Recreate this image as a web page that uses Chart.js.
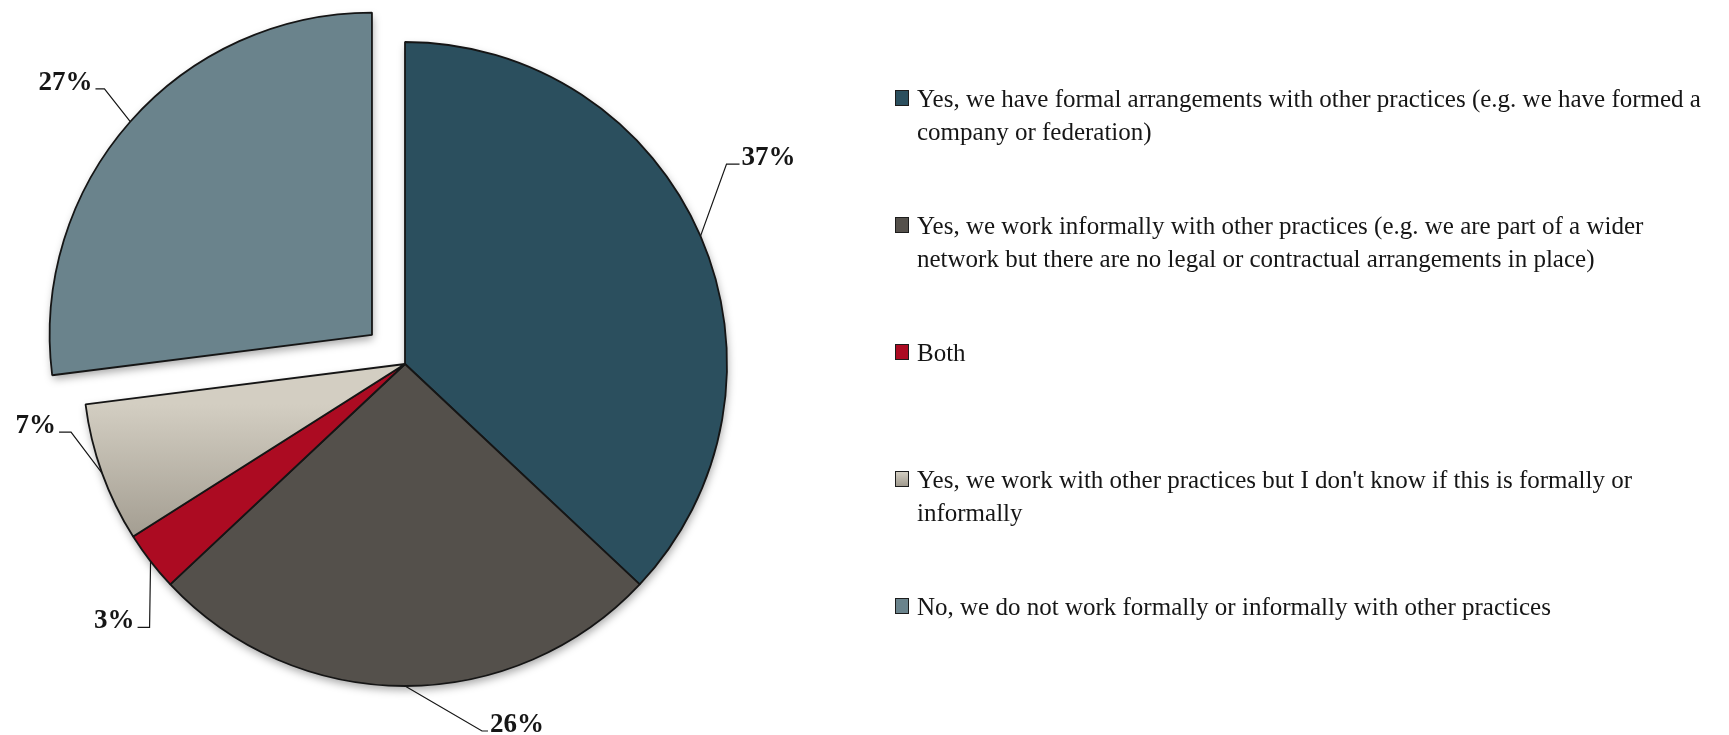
<!DOCTYPE html>
<html>
<head>
<meta charset="utf-8">
<script src="https://cdn.jsdelivr.net/npm/chart.js@4.4.0/dist/chart.umd.min.js"></script>
<style>
  html, body { margin: 0; padding: 0; background: #fff; }
  #wrap { position: relative; width: 1729px; height: 735px; overflow: hidden; }
  #wrap canvas { position: absolute; left: 0; top: 0; }
  #legend { position: absolute; left: 0; top: 0; font-family: "Liberation Serif", serif; font-size: 25px; color: #161616; }
  .item { position: absolute; left: 895px; }
  .swatch { position: absolute; left: 0; top: 8px; width: 12px; height: 14px; border: 1.5px solid #1c1c1c; }
  .text { position: absolute; left: 22px; top: 0; line-height: 33px; white-space: nowrap; }
</style>
</head>
<body>
<div id="wrap">
  <canvas id="practice_pie" width="1729" height="735"></canvas>
  <div id="legend"></div>
</div>
<script>
// answer categories (each entry is a list of legend lines)
var labels = [
   ['Yes, we have formal arrangements with other practices (e.g. we have formed a', 'company or federation)'],
   ['Yes, we work informally with other practices (e.g. we are part of a wider', 'network but there are no legal or contractual arrangements in place)'],
   ['Both'],
   ["Yes, we work with other practices but I don't know if this is formally or", 'informally'],
   ['No, we do not work formally or informally with other practices']
];
// share of respondents, percent
var shares = [37, 26, 3, 7, 27];

var sliceColors = ['#2b4f5e', '#54504b', '#ac0b22', '#c6c1b5', '#6a838c'];
// chart.js moves an arc by offset / 4, so 176 pulls the last slice out ~44px
var sliceOffset = [0, 0, 0, 0, 176];

// leader line from the slice edge: bend, then a short horizontal run to the text
var leaderShape = [
   {dx: 26, dy: -72, run: 13},
   {dx: 77, dy: 45, run: 6},
   {dx: -1, dy: 66, run: -12},
   {dx: -31, dy: -41, run: -12},
   {dx: -26, dy: -33, run: -9}
];

function edgePoint(arc) {
   var p = arc.getProps(['x', 'y', 'startAngle', 'endAngle', 'outerRadius'], true);
   var mid = (p.startAngle + p.endAngle) / 2;
   var off = (arc.options.offset || 0) / 4;
   return {
      cx: p.x + Math.cos(mid) * off,
      cy: p.y + Math.sin(mid) * off,
      x: p.x + Math.cos(mid) * (p.outerRadius + off),
      y: p.y + Math.sin(mid) * (p.outerRadius + off),
      p: p
   };
}

// soft drop shadow under the whole pie
var pieShadow = {
   id: 'pieShadow',
   beforeDatasetsDraw: function(chart) {
      var ctx = chart.ctx;
      var meta = chart.getDatasetMeta(0);
      ctx.save();
      ctx.shadowColor = 'rgba(0,0,0,0.35)';
      ctx.shadowBlur = 9;
      ctx.shadowOffsetX = 1;
      ctx.shadowOffsetY = 4;
      ctx.fillStyle = '#fff';
      ctx.beginPath();
      meta.data.forEach(function(arc) {
         var e = edgePoint(arc);
         ctx.moveTo(e.cx, e.cy);
         ctx.arc(e.cx, e.cy, e.p.outerRadius, e.p.startAngle, e.p.endAngle);
         ctx.closePath();
      });
      ctx.fill();
      ctx.restore();
   }
};

// percentage labels with leader lines
var pieLabels = {
   id: 'pieLabels',
   afterDatasetsDraw: function(chart) {
      var ctx = chart.ctx;
      var meta = chart.getDatasetMeta(0);
      ctx.save();
      ctx.strokeStyle = '#161616';
      ctx.lineWidth = 1.2;
      ctx.fillStyle = '#161616';
      ctx.font = 'bold 27px "Liberation Serif"';
      ctx.textBaseline = 'alphabetic';
      meta.data.forEach(function(arc, i) {
         var e = edgePoint(arc);
         var s = leaderShape[i];
         var bx = e.x + s.dx, by = e.y + s.dy;
         var ex = bx + s.run;
         ctx.beginPath();
         ctx.moveTo(e.x, e.y);
         ctx.lineTo(bx, by);
         ctx.lineTo(ex, by);
         ctx.stroke();
         ctx.textAlign = s.run >= 0 ? 'left' : 'right';
         ctx.fillText(shares[i] + '%', ex + (s.run >= 0 ? 2 : -3), by + 1);
      });
      ctx.restore();
   }
};

function sliceFill(c) {
   var col = sliceColors[c.dataIndex];
   var area = c.chart.chartArea;
   if (c.dataIndex !== 3 || !area) return col;
   var cy = (area.top + area.bottom) / 2;
   var g = c.chart.ctx.createLinearGradient(0, cy + 40, 0, cy + 185);
   g.addColorStop(0, '#d3cec2');
   g.addColorStop(1, '#9f998d');
   return g;
}

var ctx = document.getElementById('practice_pie').getContext('2d');
const practice_pie = new Chart(ctx, {
   type: 'pie',
   data: {
      labels: labels,
      datasets: [
         {
            data: shares,
            backgroundColor: sliceFill,
            borderColor: '#151515',
            borderWidth: 1.8,
            offset: sliceOffset
         }
      ]
   },
   options: {
      responsive: false,
      animation: false,
      radius: 322,
      layout: { padding: { left: 0, right: 919, top: 0, bottom: 7 } },
      plugins: {
         legend: { display: false },
         tooltip: { enabled: false }
      }
   },
   plugins: [pieShadow, pieLabels]
});

// legend on the right, one fixed slot per answer
var legend = document.getElementById('legend');
labels.forEach(function(lines, i) {
   var item = document.createElement('div');
   item.className = 'item';
   item.style.top = (82 + 127 * i) + 'px';
   var sw = document.createElement('span');
   sw.className = 'swatch';
   sw.style.background = i === 3 ? 'linear-gradient(#d3cec2, #9f998d)' : sliceColors[i];
   var tx = document.createElement('div');
   tx.className = 'text';
   lines.forEach(function(line, j) {
      if (j) tx.appendChild(document.createElement('br'));
      tx.appendChild(document.createTextNode(line));
   });
   item.appendChild(sw);
   item.appendChild(tx);
   legend.appendChild(item);
});
</script>
</body>
</html>
